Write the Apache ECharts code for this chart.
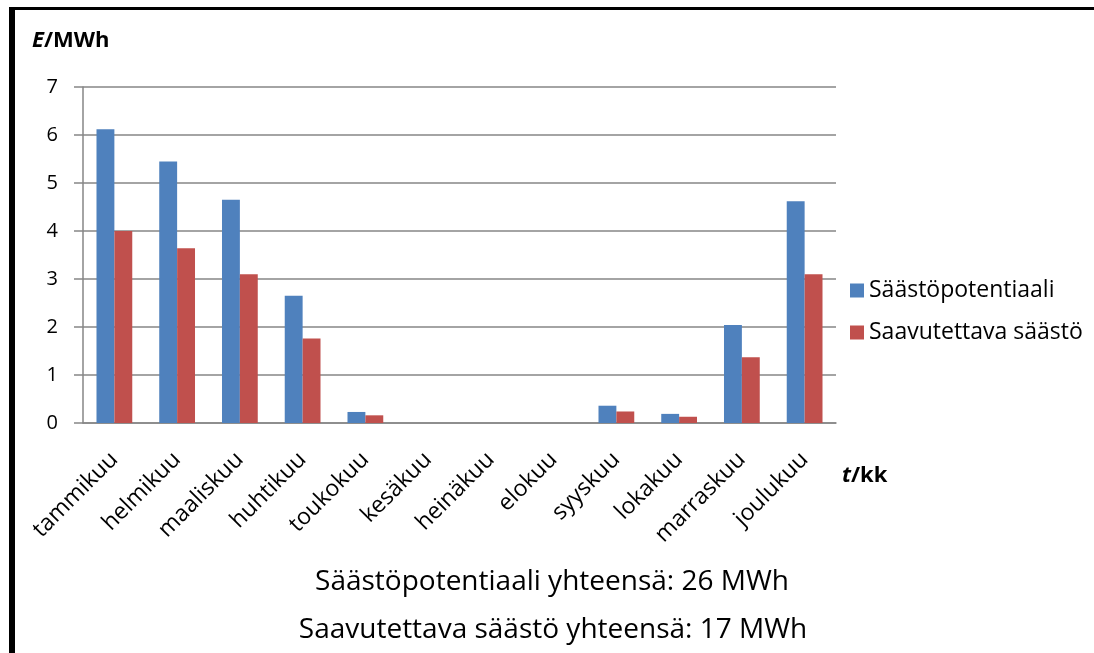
<!DOCTYPE html>
<html>
<head>
<meta charset="utf-8">
<script src="https://cdn.jsdelivr.net/npm/echarts@6/dist/echarts.min.js"></script>
<style>
html,body{margin:0;padding:0;background:#fff;}
#chart{width:1094px;height:653px;position:absolute;left:0;top:0;}
#bl{position:absolute;left:9px;top:7px;width:6px;height:646px;background:#000;}
#bt{position:absolute;left:9px;top:7px;width:1085px;height:3px;background:#000;}
</style>
</head>
<body>
<div id="chart"></div>
<div id="bl"></div>
<div id="bt"></div>
<script>
const categories = ['tammikuu','helmikuu','maaliskuu','huhtikuu','toukokuu','kesäkuu','heinäkuu','elokuu','syyskuu','lokakuu','marraskuu','joulukuu'];
const potentiaali = [6.12, 5.45, 4.65, 2.65, 0.23, 0, 0, 0, 0.36, 0.19, 2.04, 4.62];
const saavutettava = [4.00, 3.64, 3.10, 1.76, 0.16, 0, 0, 0, 0.24, 0.13, 1.37, 3.10];
const seriesNames = ['Säästöpotentiaali', 'Saavutettava säästö'];
const yTicks = {min: 0, max: 7, interval: 1};
const totalTexts = ['Säästöpotentiaali yhteensä: 26 MWh', 'Saavutettava säästö yhteensä: 17 MWh'];

const FONT = '"Open Sans", "Noto Sans", sans-serif';
const chart = echarts.init(document.getElementById('chart'), null, {renderer: 'canvas'});
chart.setOption({
  animation: false,
  backgroundColor: 'transparent',
  grid: {left: 83, right: 258, top: 87, bottom: 230, containLabel: false},
  legend: {
    orient: 'vertical', left: 845, top: 274, itemGap: 19, itemTextGap: 6,
    itemWidth: 14, itemHeight: 14, icon: 'rect',
    textStyle: {fontFamily: FONT, fontSize: 23, color: '#000'},
    data: seriesNames
  },
  xAxis: {
    type: 'category', data: categories,
    axisLine: {lineStyle: {color: '#868686', width: 1.5}},
    axisTick: {show: false},
    axisLabel: {rotate: 45, interval: 0, margin: 33, fontFamily: FONT, fontSize: 23, color: '#000'}
  },
  yAxis: {
    type: 'value', min: yTicks.min, max: yTicks.max, interval: yTicks.interval,
    axisLine: {show: true, lineStyle: {color: '#868686', width: 1.5}},
    axisTick: {show: true, length: 9, lineStyle: {color: '#868686', width: 1.5}},
    splitLine: {lineStyle: {color: '#868686', width: 1.5}},
    axisLabel: {margin: 25, fontFamily: FONT, fontSize: 20, color: '#000'}
  },
  series: [
    {name: seriesNames[0], type: 'bar', data: potentiaali, barGap: '0%', barCategoryGap: '43%',
     itemStyle: {color: '#4F81BD'}},
    {name: seriesNames[1], type: 'bar', data: saavutettava,
     itemStyle: {color: '#C0504D'}}
  ],
  graphic: [
    {type: 'text', left: 32, top: 30, style: {
      text: '{i|E}{b|/MWh}',
      rich: {i: {fontFamily: FONT, fontSize: 22, fontWeight: 'bold', fontStyle: 'italic', fill: '#000'},
             b: {fontFamily: FONT, fontSize: 22, fontWeight: 'bold', fill: '#000'}}
    }},
    {type: 'text', left: 842, top: 465, style: {
      text: '{i|t}{b|/kk}',
      rich: {i: {fontFamily: FONT, fontSize: 22, fontWeight: 'bold', fontStyle: 'italic', fill: '#000'},
             b: {fontFamily: FONT, fontSize: 22, fontWeight: 'bold', fill: '#000'}}
    }},
    {type: 'text', x: 552, y: 582, style: {text: totalTexts[0], fontFamily: FONT, fontSize: 28, fill: '#000', align: 'center', verticalAlign: 'middle'}},
    {type: 'text', x: 553, y: 630, style: {text: totalTexts[1], fontFamily: FONT, fontSize: 28, fill: '#000', align: 'center', verticalAlign: 'middle'}}
  ]
});
</script>
</body>
</html>
